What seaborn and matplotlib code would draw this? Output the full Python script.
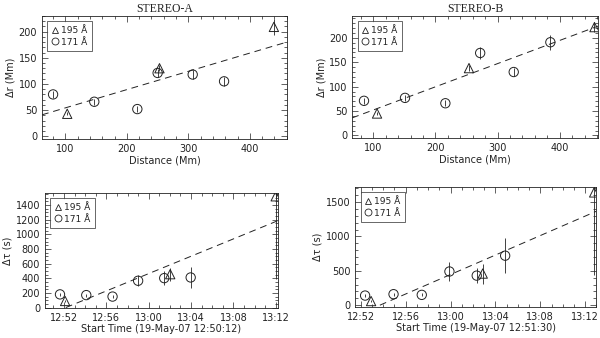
import numpy as np
import pandas as pd
import seaborn as sns
import matplotlib.pyplot as plt
from matplotlib.lines import Line2D
from matplotlib.ticker import AutoMinorLocator, FixedLocator

# STEREO-A : distance (Mm) vs delta r (Mm)
a_dist_195 = [103, 253, 439]
a_dr_195 = [43, 130, 209]
a_err_195 = [3, 6, 15]
a_dist_171 = [80, 147, 217, 250, 307, 358]
a_dr_171 = [80, 66, 52, 121, 118, 105]
a_err_171 = [6, 6, 6, 8, 8, 8]
a_fit = (19.4, 0.349)

# STEREO-B : distance (Mm) vs delta r (Mm)
b_dist_195 = [106, 254, 456]
b_dr_195 = [45, 138, 222]
b_err_195 = [3, 6, 10]
b_dist_171 = [85, 151, 216, 272, 326, 385]
b_dr_171 = [71, 77, 66, 169, 130, 191]
b_err_171 = [6, 6, 6, 12, 8, 15]
b_fit = (4.7, 0.475)

# start times (seconds after reference time) vs delta tau (s)
ta_t_195 = [114, 710, 1308]
ta_dt_195 = [90, 456, 1520]
ta_err_195 = [20, 90, 1130]
ta_t_171 = [85, 234, 383, 528, 676, 826]
ta_dt_171 = [180, 170, 150, 366, 402, 411]
ta_err_171 = [20, 20, 20, 75, 100, 145]
ta_fit = (118, 0.987)

tb_t_195 = [85, 682, 1278]
tb_dt_195 = [60, 460, 1640]
tb_err_195 = [20, 145, 1200]
tb_t_171 = [53, 205, 356, 504, 650, 802]
tb_dt_171 = [140, 160, 150, 490, 430, 720]
tb_err_171 = [20, 20, 20, 145, 110, 250]
tb_fit = (132, 1.18)

time_labels = ["12:52", "12:56", "13:00", "13:04", "13:08", "13:12"]
ref_a = "12:50:12"
ref_b = "12:51:30"

sns.set_style("ticks")
plt.rcParams["font.family"] = ["DejaVu Sans"]
ink = "#222222"


def secs(label, ref):
    h, m = [int(v) for v in label.split(":")[:2]]
    rh, rm, rs = [int(v) for v in ref.split(":")]
    return (h * 3600 + m * 60) - (rh * 3600 + rm * 60 + rs)


def panel(ax, x195, y195, e195, x171, y171, e171):
    df = pd.DataFrame({
        "x": list(x195) + list(x171),
        "y": list(y195) + list(y171),
        "err": list(e195) + list(e171),
        "band": ["195"] * len(x195) + ["171"] * len(x171),
    })
    ax.errorbar(df["x"], df["y"], yerr=df["err"], fmt="none", ecolor=ink,
                elinewidth=0.6, capsize=0, zorder=2)
    sns.scatterplot(data=df, x="x", y="y", style="band",
                    markers={"195": "^", "171": "o"}, s=45,
                    facecolor="none", edgecolor=ink, linewidth=0.7,
                    legend=False, ax=ax, zorder=3)
    handles = [
        Line2D([], [], ls="none", marker="^", mfc="none", mec=ink, ms=5, mew=0.6, label="195 Å"),
        Line2D([], [], ls="none", marker="o", mfc="none", mec=ink, ms=5, mew=0.6, label="171 Å"),
    ]
    leg = ax.legend(handles=handles, loc="upper left", fontsize=6.5, frameon=True,
                    fancybox=False, handlelength=0.6, handletextpad=0.4,
                    borderpad=0.5, labelspacing=0.3, borderaxespad=0.6)
    leg.get_frame().set_edgecolor(ink)
    leg.get_frame().set_linewidth(0.6)
    for t in leg.get_texts():
        t.set_color(ink)


def style(ax):
    ax.xaxis.set_minor_locator(AutoMinorLocator())
    ax.yaxis.set_minor_locator(AutoMinorLocator())
    ax.tick_params(which="both", direction="in", top=True, right=True,
                   labelsize=7, colors=ink, width=0.5)
    ax.tick_params(which="major", length=4)
    ax.tick_params(which="minor", length=2)
    for s in ax.spines.values():
        s.set_linewidth(0.6)
        s.set_color(ink)


fig = plt.figure(figsize=(6, 3.38), dpi=100)
ax1 = fig.add_axes([0.07, 0.589, 0.408, 0.364])
ax2 = fig.add_axes([0.587, 0.592, 0.41, 0.361])
ax3 = fig.add_axes([0.075, 0.089, 0.388, 0.340])
ax4 = fig.add_axes([0.592, 0.092, 0.402, 0.355])

# top panels
for ax, d, fit, xl, yl, title in [
    (ax1, (a_dist_195, a_dr_195, a_err_195, a_dist_171, a_dr_171, a_err_171), a_fit, (62, 460), (-5, 230), "STEREO-A"),
    (ax2, (b_dist_195, b_dr_195, b_err_195, b_dist_171, b_dr_171, b_err_171), b_fit, (66, 462), (-5, 245), "STEREO-B"),
]:
    panel(ax, *d)
    xs = np.array(xl)
    sns.lineplot(x=xs, y=fit[0] + fit[1] * xs, ax=ax, color=ink, lw=0.7,
                 dashes=False, linestyle=(0, (7, 5)))
    ax.set_xlim(*xl)
    ax.set_ylim(*yl)
    ax.set_xticks([100, 200, 300, 400])
    ax.set_yticks([0, 50, 100, 150, 200])
    ax.set_xlabel("Distance (Mm)", fontsize=7, color=ink, labelpad=1)
    ax.set_ylabel("Δr (Mm)", fontsize=7, color=ink, labelpad=2)
    ax.set_title(title, fontsize=8.5, family="Liberation Serif", color=ink, pad=3)
    style(ax)

# bottom panels
for ax, d, fit, ref, xl, yl, yt in [
    (ax3, (ta_t_195, ta_dt_195, ta_err_195, ta_t_171, ta_dt_171, ta_err_171), ta_fit, ref_a,
     (0, 1320), (-5, 1565), [0, 200, 400, 600, 800, 1000, 1200, 1400]),
    (ax4, (tb_t_195, tb_dt_195, tb_err_195, tb_t_171, tb_dt_171, tb_err_171), tb_fit, ref_b,
     (0, 1290), (-25, 1720), [0, 500, 1000, 1500]),
]:
    panel(ax, *d)
    allx = np.array(d[0] + d[3])
    xs = np.array([fit[0], allx.max() + 10])
    sns.lineplot(x=xs, y=fit[1] * (xs - fit[0]), ax=ax, color=ink, lw=0.7,
                 dashes=False, linestyle=(0, (7, 5)))
    ax.set_xlim(*xl)
    ax.set_ylim(*yl)
    ax.xaxis.set_major_locator(FixedLocator([secs(t, ref) for t in time_labels]))
    ax.set_xticklabels(time_labels)
    ax.set_yticks(yt)
    ax.set_xlabel("Start Time (19-May-07 %s)" % ref, fontsize=7, color=ink, labelpad=1)
    ax.set_ylabel("Δτ (s)", fontsize=7, color=ink, labelpad=2)
    style(ax)

fig.savefig("out.png", dpi=100)
